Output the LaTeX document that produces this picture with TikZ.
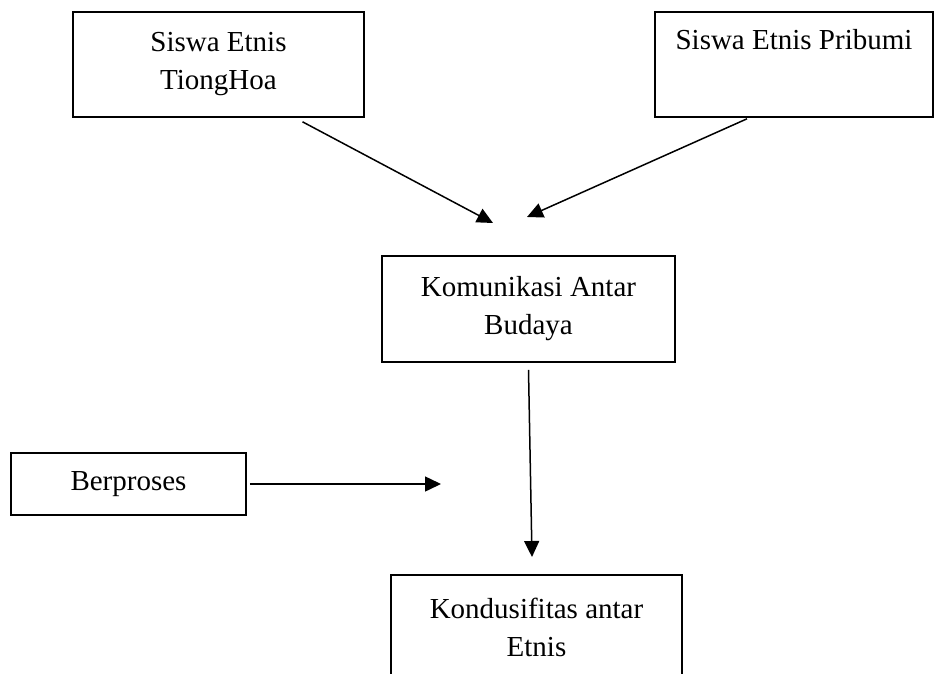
\documentclass[tikz,border=0pt]{standalone}
\usepackage{fontspec}
\setmainfont{Liberation Serif}
\usetikzlibrary{arrows.meta}
\begin{document}
\begin{tikzpicture}[x=1pt,y=-1pt,
  box/.style={draw, line width=1.6pt, inner sep=0pt, align=center,
    font=\fontsize{29}{38}\selectfont},
  conn/.style={line width=1.5pt, -{Triangle[length=16pt,width=15pt]}}]
\useasboundingbox (0,0) rectangle (934,674);
\clip (0,0) rectangle (934,674);
\fill[white] (0,0) rectangle (934,674);

\node[box, minimum width=291pt, minimum height=105pt] (b1) at (218.5,64.5) {Siswa Etnis\\TiongHoa};
\node[box, minimum width=278pt, minimum height=105pt, text height=20pt, text depth=49pt] (b2) at (794,64.5) {Siswa Etnis Pribumi};
\node[box, minimum width=293pt, minimum height=106pt] (b3) at (528.5,309) {Komunikasi Antar\\Budaya};
\node[box, minimum width=235pt, minimum height=62pt] (b4) at (128.5,484) {Berproses};
\node[box, minimum width=291pt, minimum height=105pt] (b5) at (536.5,627.5) {Kondusifitas antar\\Etnis};

\coordinate (e1) at (493,223);
\coordinate (e2) at (527,217);
\coordinate (e3) at (532,557);
\coordinate (e4) at (441,484);

\draw[conn] ([xshift=84pt,yshift=-4pt]b1.south) -- (e1);
\draw[conn] ([xshift=-47pt,yshift=-1pt]b2.south) -- (e2);
\draw[conn] ([yshift=-7pt]b3.south) -- (e3);
\draw[conn] ([xshift=3pt]b4.east) -- (e4);
\end{tikzpicture}
\end{document}
